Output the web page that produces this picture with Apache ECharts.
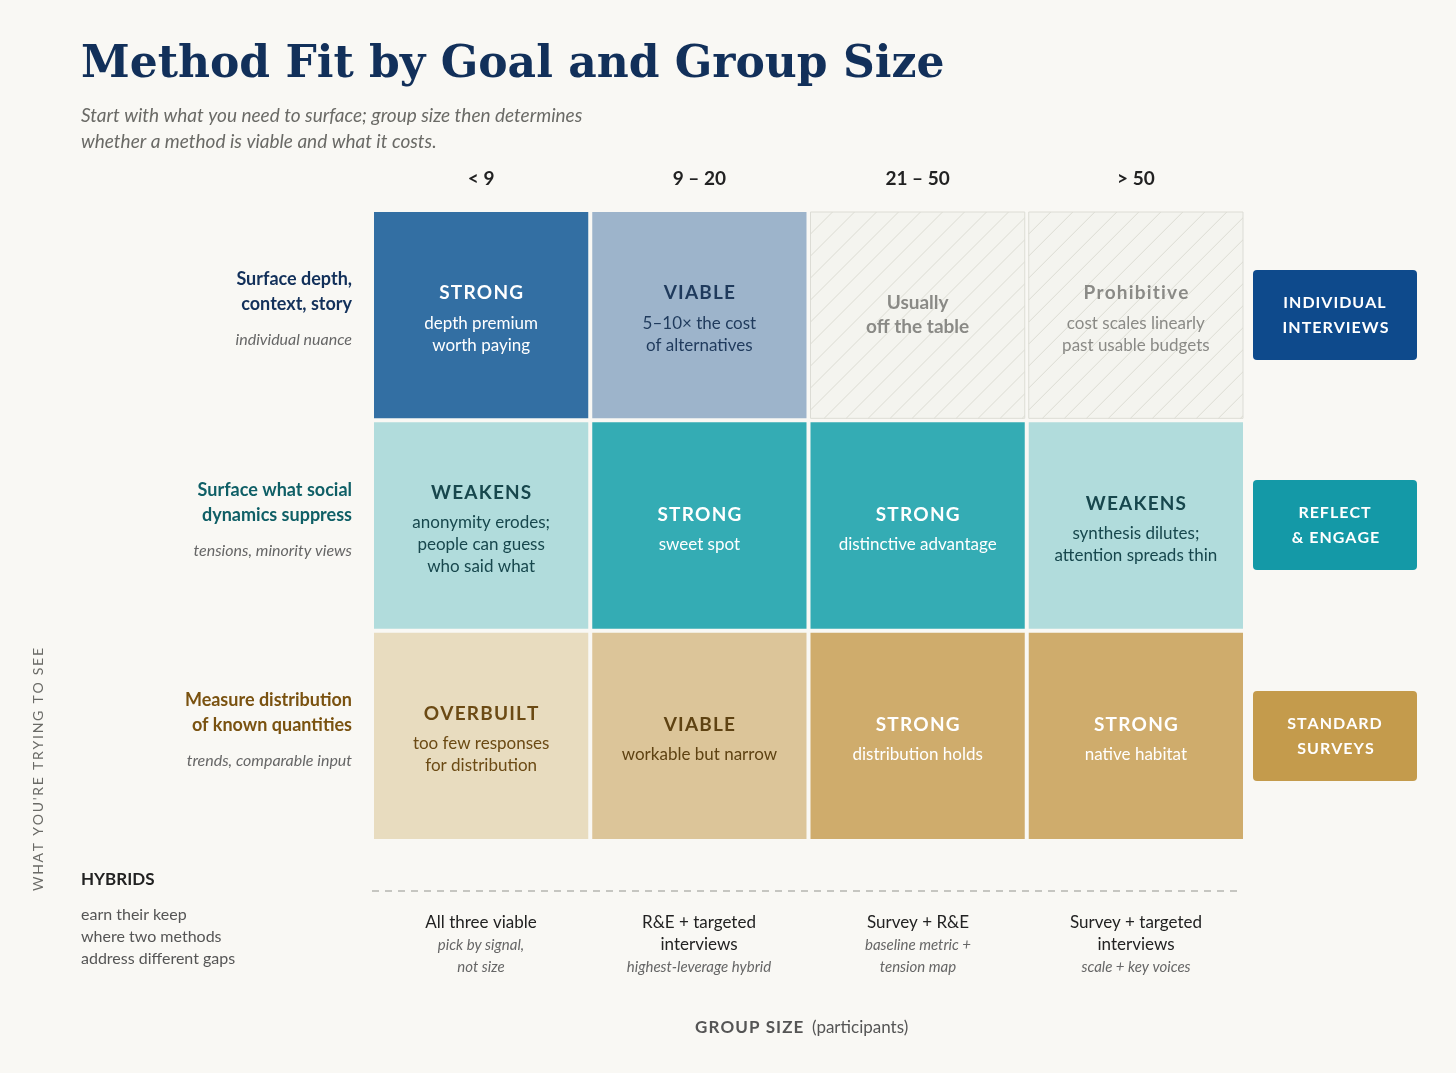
<!DOCTYPE html>
<html><head><meta charset="utf-8">
<script src="https://cdn.jsdelivr.net/npm/echarts@6/dist/echarts.min.js"></script>
<style>html,body{margin:0;background:#f9f8f4}#chart{width:1456px;height:1073px}</style>
</head><body><div id="chart"></div>
<script>
const groupSizes = ['< 9', '9 – 20', '21 – 50', '> 50'];
const goalTitles = ['Surface depth,\ncontext, story', 'Surface what social\ndynamics suppress', 'Measure distribution\nof known quantities'];
const goalNotes = ['individual nuance', 'tensions, minority views', 'trends, comparable input'];
const methods = ['INDIVIDUAL\nINTERVIEWS', 'REFLECT\n& ENGAGE', 'STANDARD\nSURVEYS'];
// fit level per row, per column: 3 strong, 2 viable/weakens, 1 overbuilt, 0 off the table
const fitLevels = [
  [3, 2, 0, 0],
  [1, 3, 3, 1],
  [1, 2, 3, 3]
];
const verdicts = [
  ['STRONG', 'VIABLE', '', 'Prohibitive'],
  ['WEAKENS', 'STRONG', 'STRONG', 'WEAKENS'],
  ['OVERBUILT', 'VIABLE', 'STRONG', 'STRONG']
];
const verdictNotes = [
  ['depth premium\nworth paying', '5–10× the cost\nof alternatives', 'Usually\noff the table', 'cost scales linearly\npast usable budgets'],
  ['anonymity erodes;\npeople can guess\nwho said what', 'sweet spot', 'distinctive advantage', 'synthesis dilutes;\nattention spreads thin'],
  ['too few responses\nfor distribution', 'workable but narrow', 'distribution holds', 'native habitat']
];
const hybridTitles = ['All three viable', 'R&E + targeted\ninterviews', 'Survey + R&E', 'Survey + targeted\ninterviews'];
const hybridNotes = ['pick by signal,\nnot size', 'highest-leverage hybrid', 'baseline metric +\ntension map', 'scale + key voices'];

const rowInk = ['#12305a', '#0f5f66', '#7a5210'];
const methodColors = ['#0e4a8c', '#1499a7', '#c49b4c'];
const cellFill = [
  ['#f4f4ef', '#9db4cb', '#9db4cb', '#336fa3'],
  ['#b1dcdc', '#b1dcdc', '#b1dcdc', '#34acb4'],
  ['#e8dcbf', '#e8dcbf', '#dcc599', '#cfac6c']
];
const cellInk = [
  ['#8a8a86', '#1f3a5c', '#1f3a5c', '#ffffff'],
  ['#17474d', '#17474d', '#17474d', '#ffffff'],
  ['#6b4a14', '#6b4a14', '#5e4212', '#ffffff']
];

const cells = [];
fitLevels.forEach((row, r) => row.forEach((lvl, c) => {
  let level = lvl;
  if (r === 2 && c === 1) level = 2;
  cells.push([c, r, level]);
}));
const spaced = s => s.split('').join('\u200a');

function renderCell(params, api) {
  const c = api.value(0), r = api.value(1), lvl = api.value(2);
  const p = api.coord([c, r]);
  const sz = api.size([1, 1]);
  const w = sz[0] - 4, h = sz[1] - 4;
  const x0 = p[0] - w / 2, y0 = p[1] - h / 2;
  let fill = cellFill[r][lvl], ink = cellInk[r][lvl];
  if (r === 2 && c === 1) { fill = '#dcc599'; ink = '#5e4212'; }
  if (r === 2 && c === 0) { fill = '#e8dcbf'; }
  const children = [{ type: 'rect', shape: { x: x0, y: y0, width: w, height: h },
    style: { fill: fill, stroke: lvl === 0 ? '#dcdcd5' : null, lineWidth: 1 } }];
  if (lvl === 0) {
    for (let k = 22; k < w + h; k += 22) {
      children.push({ type: 'line', silent: true,
        shape: { x1: x0 + Math.max(0, k - h), y1: y0 + Math.min(k, h), x2: x0 + Math.min(k, w), y2: y0 + k - Math.min(k, w) },
        style: { stroke: '#dcdcd3', lineWidth: 1 } });
    }
  }
  const title = verdicts[r][c];
  const note = verdictNotes[r][c];
  let text = title ? '{t|' + spaced(title) + '}\n' : '';
  text += note.split('\n').map(l => (title ? '{n|' : '{u|') + l + '}').join('\n');
  children.push({ type: 'text', style: {
    x: p[0], y: p[1], text: text, align: 'center', verticalAlign: 'middle',
    rich: {
      t: { fontFamily: 'Lato', fontWeight: 'bold', fontSize: 19, fill: title === 'Prohibitive' ? '#8a8a86' : ink, lineHeight: 38 },
      n: { fontFamily: 'Lato', fontSize: 17, fill: ink, lineHeight: 22 },
      u: { fontFamily: 'Lato', fontWeight: 'bold', fontSize: 19, fill: ink, lineHeight: 24 }
    } } });
  if (title === 'Prohibitive') children[children.length - 1].style.rich.t.letterSpacing = 0;
  return { type: 'group', children: children };
}

const graphic = [
  { type: 'text', left: 81, top: 44, style: { text: 'Method Fit by Goal and Group Size', font: 'bold 44px "DejaVu Serif"', fill: '#12305a' } },
  { type: 'text', left: 81, top: 103, style: { text: 'Start with what you need to surface; group size then determines\nwhether a method is viable and what it costs.', font: 'italic 19px Lato', fill: '#6a6a66', lineHeight: 26 } },
  { type: 'text', left: 31, top: 648, rotation: Math.PI / 2, style: { text: spaced("WHAT YOU'RE TRYING TO SEE").replace(/\u200a/g, '\u2009'), font: '14px Lato', fill: '#6a6a66' } },
  { type: 'text', left: 695, top: 1019, style: { text: '', rich: {
      a: { fontFamily: 'Lato', fontWeight: 'bold', fontSize: 17, fill: '#555' },
      b: { fontFamily: 'Lato', fontSize: 17, fill: '#555' } },
      } },
  { type: 'text', left: 81, top: 871, style: { text: 'HYBRIDS', font: 'bold 17px Lato', fill: '#222' } },
  { type: 'text', left: 81, top: 904, style: { text: 'earn their keep\nwhere two methods\naddress different gaps', font: '16px Lato', fill: '#555', lineHeight: 22 } },
  { type: 'line', shape: { x1: 372, y1: 891, x2: 1240, y2: 891 }, style: { stroke: '#b5b5b0', lineWidth: 1.3, lineDash: [7, 6] } }
];
graphic[3].style.text = '{a|' + spaced('GROUP SIZE') + '}{b|  (participants)}';
const colX = [481, 699, 918, 1136];
hybridTitles.forEach((t, i) => {
  const lines = t.split('\n').map(l => '{h|' + l + '}').concat(hybridNotes[i].split('\n').map(l => '{n|' + l + '}'));
  graphic.push({ type: 'text', x: colX[i], y: 912, style: { text: lines.join('\n'), align: 'center', verticalAlign: 'top',
    rich: { h: { fontFamily: 'Lato', fontSize: 17, fill: '#222', lineHeight: 22 }, n: { fontFamily: 'Lato', fontStyle: 'italic', fontSize: 15, fill: '#666', lineHeight: 22 } } } });
});
const rowY = [315, 525, 736];
methods.forEach((m, i) => {
  graphic.push({ type: 'group', x: 1253, y: rowY[i] - 45, children: [
    { type: 'rect', shape: { x: 0, y: 0, width: 164, height: 90, r: 4 }, style: { fill: methodColors[i] } },
    { type: 'text', x: 82, y: 45, style: { text: m.split('').join('\u200a'), align: 'center', verticalAlign: 'middle', font: 'bold 16px Lato', fill: '#fff', lineHeight: 25 } }
  ] });
});

const chart = echarts.init(document.getElementById('chart'));
chart.setOption({
  backgroundColor: '#f9f8f4',
  animation: false,
  grid: { left: 372, right: 211, top: 210, bottom: 232 },
  xAxis: { type: 'category', data: groupSizes, position: 'top',
    axisLine: { show: false }, axisTick: { show: false }, splitLine: { show: false },
    axisLabel: { margin: 22, fontFamily: 'Lato', fontWeight: 'bold', fontSize: 19, color: '#222' } },
  yAxis: { type: 'category', data: goalTitles, inverse: true,
    axisLine: { show: false }, axisTick: { show: false },
    axisLabel: { margin: 20, align: 'right',
      formatter: (v, i) => v.split('\n').map(l => '{t' + i + '|' + l + '}').join('\n') + '\n{n|' + goalNotes[i] + '}',
      rich: {
        t0: { fontFamily: 'Lato', fontWeight: 'bold', fontSize: 18, color: rowInk[0], lineHeight: 25, align: 'right' },
        t1: { fontFamily: 'Lato', fontWeight: 'bold', fontSize: 18, color: rowInk[1], lineHeight: 25, align: 'right' },
        t2: { fontFamily: 'Lato', fontWeight: 'bold', fontSize: 18, color: rowInk[2], lineHeight: 25, align: 'right' },
        n: { fontFamily: 'Lato', fontStyle: 'italic', fontSize: 16, color: '#666', lineHeight: 46, align: 'right' }
      } } },
  series: [{ type: 'custom', data: cells, renderItem: renderCell, encode: { x: 0, y: 1 } }],
  graphic: graphic
});
</script></body></html>
